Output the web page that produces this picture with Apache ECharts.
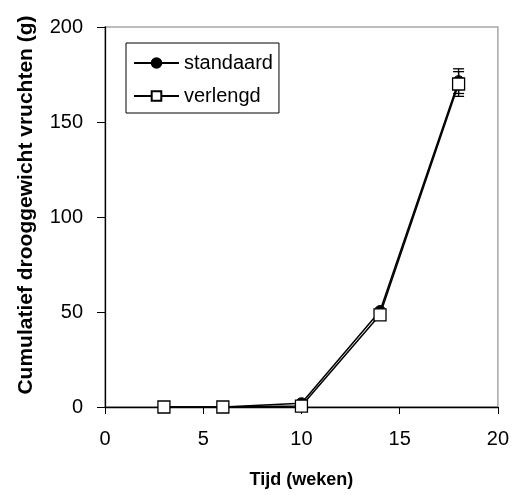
<!DOCTYPE html>
<html>
<head>
<meta charset="utf-8">
<script src="https://cdn.jsdelivr.net/npm/echarts@6/dist/echarts.min.js"></script>
<style>
  html, body { margin: 0; padding: 0; background: #fff; }
  #chart { width: 512px; height: 495px; }
</style>
</head>
<body>
<div id="chart"></div>
<script>
// Cumulative fruit dry weight over time, two treatments
const weeks = [3, 6, 10, 14, 18];
const standaard = [0, 0, 2, 50.5, 171.5];
const verlengd = [0, 0, 0.5, 48.5, 170];
// standard error at each time point (null = no bar drawn)
const standaardErr = [null, null, null, null, 6.5];
const verlengdErr = [null, null, null, null, 6.5];
const xTicks = [0, 5, 10, 15, 20];
const yTicks = [0, 50, 100, 150, 200];

const FONT = '"Liberation Sans", Arial, sans-serif';

function pairs(xs, ys) { return xs.map((x, i) => [x, ys[i]]); }
function errData(xs, ys, es) {
  const out = [];
  xs.forEach((x, i) => { if (es[i] != null) out.push([x, ys[i] - es[i], ys[i] + es[i]]); });
  return out;
}

function errorBarRender(params, api) {
  const x = api.value(0);
  const lo = api.coord([x, api.value(1)]);
  const hi = api.coord([x, api.value(2)]);
  const half = 5.5;
  const style = { stroke: '#000', lineWidth: 1.3, fill: null };
  return {
    type: 'group',
    children: [
      { type: 'line', shape: { x1: hi[0], y1: hi[1], x2: lo[0], y2: lo[1] }, style },
      { type: 'line', shape: { x1: hi[0] - half, y1: hi[1], x2: hi[0] + half, y2: hi[1] }, style },
      { type: 'line', shape: { x1: lo[0] - half, y1: lo[1], x2: lo[0] + half, y2: lo[1] }, style }
    ]
  };
}

const chart = echarts.init(document.getElementById('chart'), null, { renderer: 'canvas' });
chart.setOption({
  animation: false,
  backgroundColor: '#fff',
  grid: {
    left: 105, right: 13, top: 27, bottom: 88,
    show: true, borderColor: '#a6a6a6', borderWidth: 1.5, backgroundColor: 'transparent'
  },
  legend: {
    left: 126, top: 43,
    orient: 'vertical',
    itemWidth: 45, itemHeight: 12, itemGap: 13,
    padding: [10, 6, 7, 7],
    borderColor: '#000', borderWidth: 1,
    textStyle: { fontFamily: FONT, fontSize: 20, color: '#000' },
    data: ['standaard', 'verlengd']
  },
  xAxis: {
    type: 'value', min: xTicks[0], max: xTicks[xTicks.length - 1], interval: 5,
    name: 'Tijd (weken)', nameLocation: 'middle', nameGap: 64,
    nameTextStyle: { fontFamily: FONT, fontSize: 18, fontWeight: 'bold', color: '#000' },
    axisLine: { lineStyle: { color: '#000', width: 1.3 } },
    axisTick: { show: true, inside: false, length: 7, lineStyle: { color: '#000' } },
    axisLabel: { fontFamily: FONT, fontSize: 20, color: '#000', margin: 22 },
    splitLine: { show: false }
  },
  yAxis: {
    type: 'value', min: yTicks[0], max: yTicks[yTicks.length - 1], interval: 50,
    name: 'Cumulatief drooggewicht vruchten (g)', nameLocation: 'middle', nameGap: 68,
    nameTextStyle: { fontFamily: FONT, fontSize: 21, fontWeight: 'bold', color: '#000', padding: [0, 0, 0, 24] },
    axisLine: { lineStyle: { color: '#000', width: 1.3 } },
    axisTick: { show: true, inside: false, length: 8, lineStyle: { color: '#000' } },
    axisLabel: { fontFamily: FONT, fontSize: 20, color: '#000', margin: 22 },
    splitLine: { show: false }
  },
  series: [
    {
      type: 'custom', name: 'errStandaard', renderItem: errorBarRender,
      data: errData(weeks, standaard, standaardErr), z: 2, silent: true
    },
    {
      type: 'custom', name: 'errVerlengd', renderItem: errorBarRender,
      data: errData(weeks, verlengd, verlengdErr), z: 2, silent: true
    },
    {
      name: 'standaard', type: 'line', data: pairs(weeks, standaard),
      symbol: 'circle', symbolSize: 11, showAllSymbol: true,
      lineStyle: { color: '#000', width: 1.5 },
      itemStyle: { color: '#000', borderColor: '#000', borderWidth: 1 },
      z: 3
    },
    {
      name: 'verlengd', type: 'line', data: pairs(weeks, verlengd),
      symbol: 'rect', symbolSize: 12, showAllSymbol: true,
      lineStyle: { color: '#000', width: 1.5 },
      itemStyle: { color: '#fff', borderColor: '#000', borderWidth: 1.3 },
      z: 4
    }
  ]
});
</script>
</body>
</html>
